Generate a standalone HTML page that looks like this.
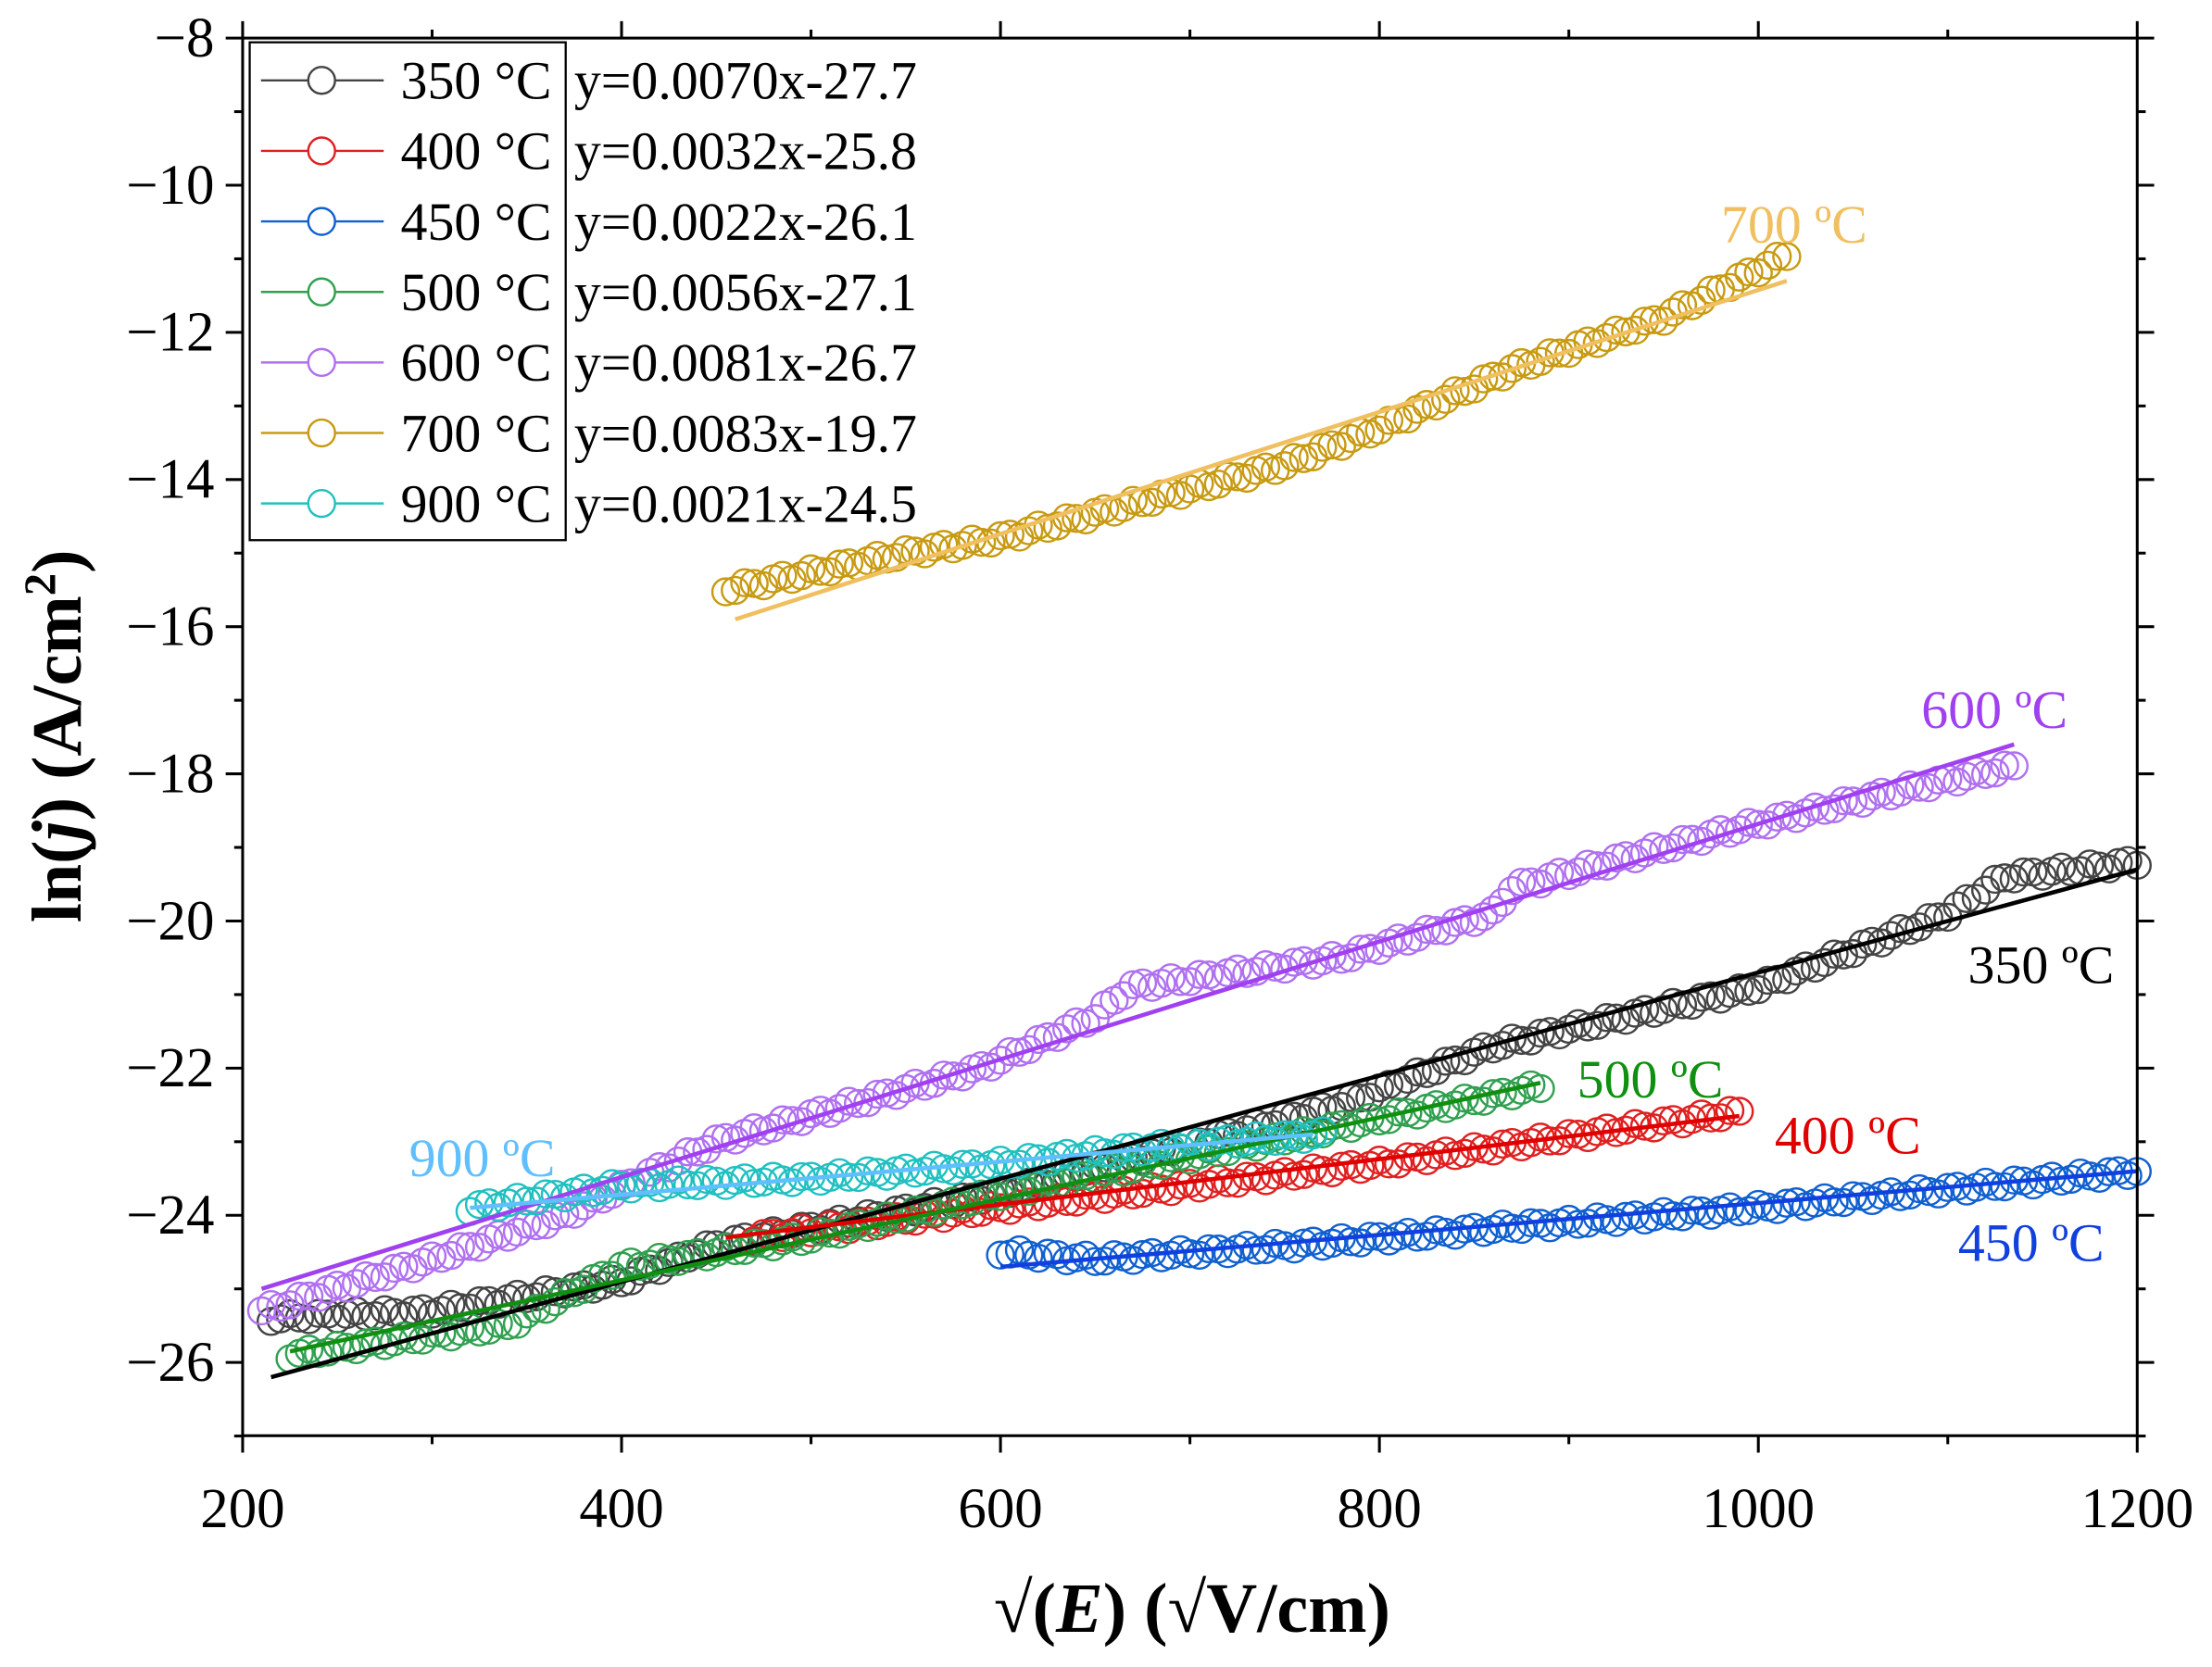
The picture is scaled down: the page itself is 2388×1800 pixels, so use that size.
<!DOCTYPE html>
<html><head><meta charset="utf-8"><style>
html,body{margin:0;padding:0;background:#fff;}
svg{display:block;font-family:"Liberation Serif",serif;}
</style></head><body>
<svg id="s" width="2388" height="1800" viewBox="0 0 1568 1182" preserveAspectRatio="none" xmlns="http://www.w3.org/2000/svg">
<rect width="1568" height="1182" fill="#fff"/>
<g id="data"></g>
<rect x="172" y="27" width="1343" height="991" fill="none" stroke="#000" stroke-width="2"/>
<g id="ticks" stroke="#000" stroke-width="2"></g>
<g font-size="40" fill="#000" id="lab"></g>
<text x="845" y="1157" font-size="50" font-weight="bold" text-anchor="middle">√(<tspan font-style="italic">E</tspan>) (√V/cm)</text>
<text transform="translate(57,522) rotate(-90)" font-size="50" font-weight="bold" text-anchor="middle">ln(<tspan font-style="italic">j</tspan>) (A/cm<tspan dy="-18" font-size="32">2</tspan><tspan dy="18">)</tspan></text>
<rect x="177" y="30" width="224" height="353" fill="#fff" stroke="#000" stroke-width="1.5"/>
<g id="leg" font-size="38"></g>
<g font-size="38">
<text x="1220" y="172" fill="#f0c060">700 ºC</text>
<text x="1362" y="516" fill="#a040f0">600 ºC</text>
<text x="1395" y="697" fill="#000">350 ºC</text>
<text x="1118" y="778" fill="#109010">500 ºC</text>
<text x="1258" y="818" fill="#e00000">400 ºC</text>
<text x="1388" y="894" fill="#1040e0">450 ºC</text>
<text x="290" y="834" fill="#60c0ff">900 ºC</text>
</g>
</svg>
<script>
const NS="http://www.w3.org/2000/svg";
const X=v=>172+(v-200)*1.343, Y=v=>27+(-8-v)*52.17;
function el(p,t,a){const e=document.createElementNS(NS,t);for(const k in a)e.setAttribute(k,a[k]);p.appendChild(e);return e;}
const tk=document.getElementById('ticks'),lab=document.getElementById('lab');
for(let v=200;v<=1200;v+=100){const x=X(v),maj=v%200==0;el(tk,'line',{x1:x,y1:1018,x2:x,y2:maj?1030:1024});el(tk,'line',{x1:x,y1:27,x2:x,y2:maj?15:21});
 if(maj){const t=el(lab,'text',{x:x,y:1083,'text-anchor':'middle'});t.textContent=v;}}
for(let v=-27;v<=-8;v+=1){const y=Y(v),maj=v%2==0;el(tk,'line',{x1:172,y1:y,x2:maj?160:166,y2:y});el(tk,'line',{x1:1515,y1:y,x2:maj?1527:1521,y2:y});
 if(maj){const t=el(lab,'text',{x:152,y:y+13,'text-anchor':'end'});t.textContent='\u2212'+(-v);}}
const S=[
 {m:'#444',f:'#000',p:[[215,-25.4],[300,-25.3],[400,-24.9],[450,-24.4],[600,-23.7],[780,-22.5],[860,-21.7],[1000,-20.9],[1100,-19.9],[1130,-19.4],[1200,-19.2]],fl:[215,-26.2,1200,-19.3]},
 {m:'#e02020',f:'#e00000',p:[[470,-24.3],[600,-23.9],[800,-23.3],[990,-22.6]],fl:[455,-24.3,990,-22.65]},
 {m:'#1060d0',f:'#1040e0',p:[[600,-24.5],[650,-24.6],[760,-24.4],[850,-24.2],[1000,-23.9],[1200,-23.4]],fl:[600,-24.7,1200,-23.4]},
 {m:'#30a050',f:'#109010',p:[[225,-25.9],[340,-25.5],[400,-24.7],[500,-24.3],[600,-23.7],[760,-22.9],[885,-22.25]],fl:[225,-25.85,885,-22.2]},
 {m:'#b070f0',f:'#a040f0',p:[[210,-25.3],[300,-24.6],[370,-24],[450,-23],[520,-22.5],[590,-22],[650,-21.3],[668,-20.9],[780,-20.5],[860,-19.9],[870,-19.55],[980,-18.8],[1080,-18.2],[1135,-17.9]],fl:[210,-25.0,1135,-17.6]},
 {m:'#c89a10',f:'#f0c060',p:[[455,-15.5],[550,-15],[600,-14.8],[720,-14],[750,-13.8],[800,-13.3],[870,-12.5],[950,-11.8],[1015,-10.95]],fl:[460,-15.9,1015,-11.3]},
 {m:'#20c0c0',f:'#60c0ff',p:[[320,-23.9],[400,-23.6],[500,-23.5],[600,-23.3],[670,-23.1],[770,-22.9]],fl:[320,-23.9,765,-22.9]}
];
const g=document.getElementById('data');
S.forEach((s,i)=>{const p=s.p;let k=0;
 for(let x=p[0][0];x<=p[p.length-1][0]+0.1;x+=5){while(k<p.length-2&&x>p[k+1][0])k++;
  const a=p[k],b=p[k+1];const y=a[1]+(b[1]-a[1])*(x-a[0])/(b[0]-a[0])+0.05*Math.sin(x*0.37+i);
  el(g,'circle',{cx:X(x),cy:Y(y),r:9.5,fill:'none',stroke:s.m,'stroke-width':1.6});}
});
S.forEach(s=>{const f=s.fl;el(g,'line',{x1:X(f[0]),y1:Y(f[1]),x2:X(f[2]),y2:Y(f[3]),stroke:s.f,'stroke-width':3});});
const L=[['350 °C','y=0.0070x-27.7'],['400 °C','y=0.0032x-25.8'],['450 °C','y=0.0022x-26.1'],['500 °C','y=0.0056x-27.1'],['600 °C','y=0.0081x-26.7'],['700 °C','y=0.0083x-19.7'],['900 °C','y=0.0021x-24.5']];
const lg=document.getElementById('leg');
L.forEach((l,i)=>{const y=57+i*50;el(lg,'line',{x1:185,y1:y,x2:272,y2:y,stroke:S[i].m,'stroke-width':1.6});
 el(lg,'circle',{cx:228,cy:y,r:9.5,fill:'#fff',stroke:S[i].m,'stroke-width':1.6});
 let t=el(lg,'text',{x:284,y:y+13});t.textContent=l[0];t=el(lg,'text',{x:407,y:y+13});t.textContent=l[1];});
</script>
</body></html>
